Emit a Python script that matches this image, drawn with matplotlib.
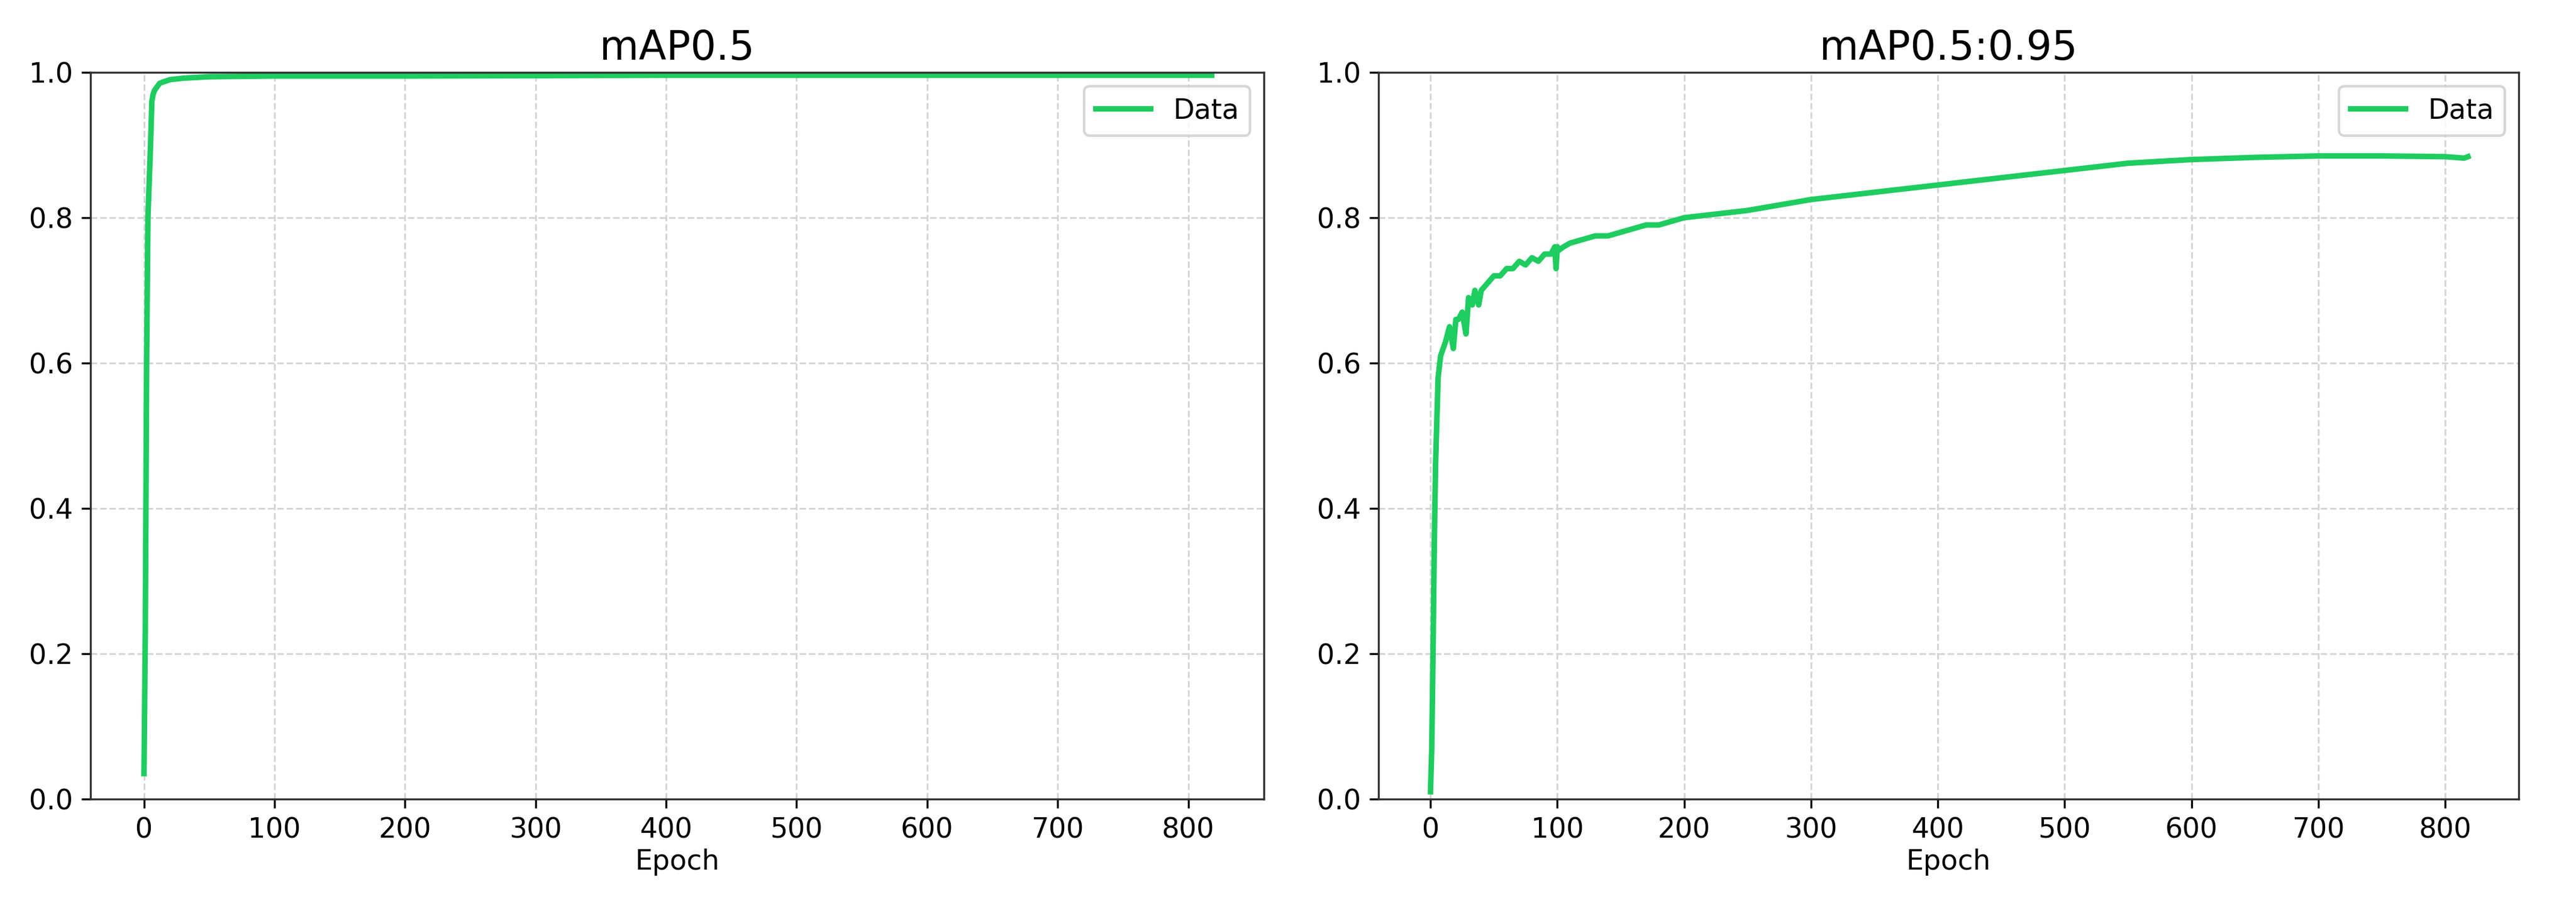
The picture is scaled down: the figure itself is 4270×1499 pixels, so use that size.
import matplotlib
matplotlib.use("Agg")
import matplotlib.pyplot as plt

left_epochs = [0, 1, 2, 3, 4, 5, 6, 7, 8, 10, 12, 15, 20, 30, 50, 100, 200, 400, 600, 800, 818]
left_values = [0.035, 0.23, 0.6, 0.8, 0.85, 0.9, 0.96, 0.97, 0.975, 0.98, 0.985, 0.987, 0.99,
               0.992, 0.994, 0.995, 0.995, 0.996, 0.996, 0.996, 0.996]

right_epochs = [0, 1, 2, 3, 4, 5, 6, 8, 10, 12, 15, 18, 20, 22, 25, 28, 30, 33, 35, 38,
                40, 45, 50, 55, 60, 65, 70, 75, 80, 85, 90, 95, 98, 99, 100, 101, 105, 110, 120, 130,
                140, 150, 160, 170, 180, 200, 250, 300, 350, 400,
                450, 500, 550, 600, 650, 700, 750, 800, 815, 818]
right_values = [0.01, 0.07, 0.2, 0.35, 0.46, 0.52, 0.58, 0.61, 0.62, 0.63,
                0.65, 0.62, 0.66, 0.66, 0.67, 0.64, 0.69, 0.68, 0.70, 0.68,
                0.70, 0.71, 0.72, 0.72, 0.73, 0.73, 0.74, 0.735, 0.745, 0.74,
                0.75, 0.75, 0.76, 0.73, 0.76, 0.755, 0.76, 0.765, 0.77, 0.775,
                0.775, 0.78, 0.785, 0.79, 0.79, 0.80, 0.81, 0.825, 0.835, 0.845,
                0.855, 0.865, 0.875, 0.88, 0.883, 0.885, 0.885, 0.884, 0.882, 0.884]

titles = ["mAP0.5", "mAP0.5:0.95"]
color = "#1ecc5f"

fig = plt.figure(figsize=(4270/300, 1499/300), dpi=300)
ax1 = fig.add_axes([150/4270, 1-1325/1499, 1945/4270, 1205/1499])
ax2 = fig.add_axes([2285/4270, 1-1325/1499, 1890/4270, 1205/1499])

for ax, x, y, t in [(ax1, left_epochs, left_values, titles[0]), (ax2, right_epochs, right_values, titles[1])]:
    ax.plot(x, y, color=color, lw=2.2, label="Data")
    ax.set_ylim(0, 1.0)
    ax.set_xlim(-41, 858)
    ax.set_xticks(range(0, 801, 100))
    ax.set_title(t, fontsize=16, pad=5)
    ax.set_xlabel("Epoch", fontsize=11, labelpad=2)
    ax.tick_params(labelsize=11)
    ax.grid(True, ls="--", color="#d5d5d5", lw=0.7)
    for s in ax.spines.values():
        s.set_color("#333333")
    ax.legend(loc="upper right", fontsize=11)

fig.savefig("out.png", dpi=300)
